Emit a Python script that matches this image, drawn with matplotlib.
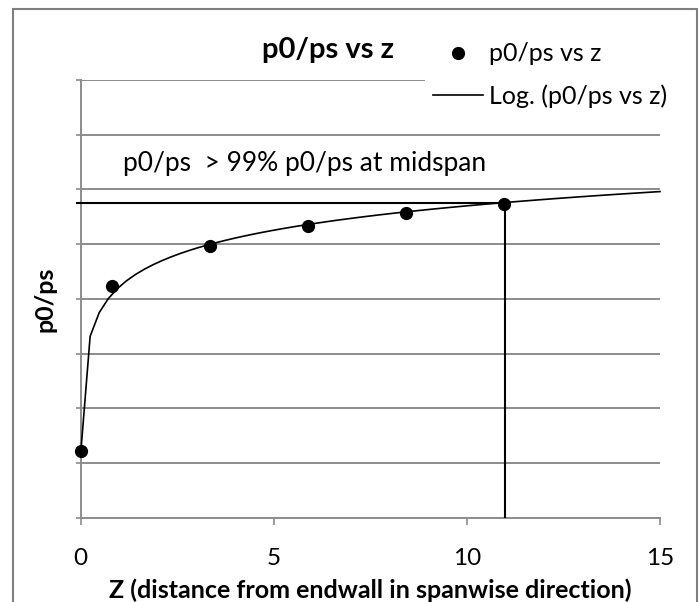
import numpy as np
import matplotlib
matplotlib.use("Agg")
import matplotlib.pyplot as plt
from matplotlib.patches import Rectangle
from matplotlib.lines import Line2D

# ---- data (y in arbitrary units: one gridline step = 1) ----
z_points = [0.01, 0.80, 3.35, 5.89, 8.42, 10.96]
p_points = [1.21, 4.24, 4.96, 5.34, 5.565, 5.73]
threshold_value = 5.753      # 99% of midspan p0/ps
threshold_z = 10.98
x_ticks = [0, 5, 10, 15]
x_tick_labels = ["0", "5", "10", "15"]
y_gridlines = [0, 1, 2, 3, 4, 5, 6, 7, 8]

title = "p0/ps vs z"
series_label = "p0/ps vs z"
trend_label = "Log. (p0/ps vs z)"
x_label = "Z (distance from endwall in spanwise direction)"
y_label = "p0/ps"
note = "p0/ps  > 99% p0/ps at midspan"

FONT = "Lato"
GRID = "#8c8c8c"

W, H = 699, 602
fig = plt.figure(figsize=(W / 100, H / 100), dpi=100)
plt.rcParams["font.family"] = [FONT, "DejaVu Sans"]

def fx(px):
    return px / W

def fy(py):
    return 1 - py / H

ax = fig.add_axes([fx(80.7), fy(517.7), fx(660) - fx(80.7), fy(80) - fy(517.7)])
ax.set_xlim(0, 15)
ax.set_ylim(0, 8)

# gridlines
ax.set_yticks(y_gridlines)
ax.set_yticklabels([])
ax.yaxis.grid(True, color=GRID, lw=1.4)
ax.set_axisbelow(True)
ax.tick_params(axis="y", length=3.5, width=1.2, color=GRID, direction="out")
ax.set_xticks(x_ticks)
ax.set_xticklabels(x_tick_labels, fontsize=17.5)
ax.tick_params(axis="x", length=5, width=1.2, color=GRID, direction="out", pad=17)
for s in ["top", "right"]:
    ax.spines[s].set_visible(False)
for s in ["left", "bottom"]:
    ax.spines[s].set_color(GRID)
    ax.spines[s].set_linewidth(1.4)

# log trendline fitted from data
zp = np.array(z_points)
pp = np.array(p_points)
a, b = np.polyfit(np.log(zp), pp, 1)
zt = np.linspace(zp[0], 15, 65)
ax.plot(zt, a * np.log(zt) + b, color="black", lw=1.2, zorder=3, clip_on=False)

# points
ax.plot(zp, pp, "o", color="black", ms=8.5, zorder=4, clip_on=False)

# threshold lines
ax.plot([-0.1, threshold_z], [threshold_value, threshold_value], color="black", lw=1.5,
        zorder=3, clip_on=False)
ax.plot([threshold_z, threshold_z], [0, p_points[-1]], color="black", lw=1.5, zorder=3)

ax.text(0.073, 0.792, note, transform=ax.transAxes, fontsize=19, va="baseline", ha="left")

ax.set_xlabel(x_label, fontsize=18, fontweight="bold", labelpad=6.5)
ax.set_ylabel(y_label, fontsize=18, fontweight="bold")
ax.yaxis.set_label_coords((57 - 80.7) / (660 - 80.7), 0.5)

# title
fig.text(fx(328), fy(50), title, fontsize=21, fontweight="bold", ha="center", va="center")

# legend background + legend
fig.add_artist(Rectangle((fx(425), fy(122)), fx(660) - fx(425), fy(28) - fy(122),
                         transform=fig.transFigure, facecolor="white", edgecolor="none", zorder=1))
handles = [Line2D([], [], ls="none", marker="o", color="black", ms=8.5),
           Line2D([], [], color="black", lw=1.2)]
fig.legend(handles, [series_label, trend_label], loc="center left",
           bbox_to_anchor=(fx(433), fy(75)), frameon=False, fontsize=18,
           handlelength=2.0, handletextpad=0.25, labelspacing=0.75, borderpad=0,
           borderaxespad=0)

# chart border
fig.add_artist(Rectangle((fx(12.7), -0.05), fx(696.7) - fx(12.7), fy(9.3) + 0.05,
                         transform=fig.transFigure, facecolor="none", edgecolor="#7f7f7f",
                         lw=1.5, zorder=10))

fig.savefig("out.png", dpi=100)
